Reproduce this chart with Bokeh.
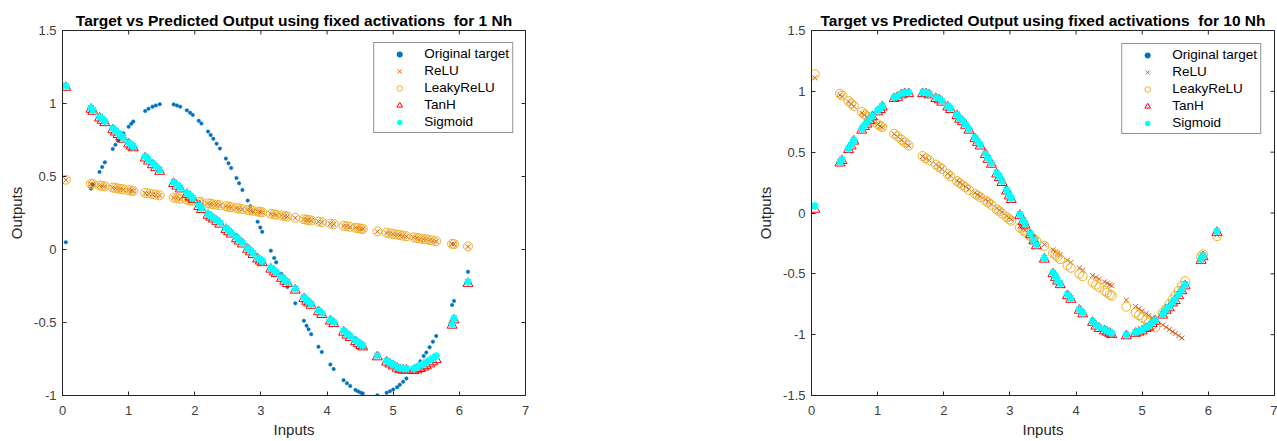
import math
from bokeh.plotting import figure
from bokeh.layouts import row
from bokeh.models import FixedTicker, Legend, LegendItem, Range1d
from bokeh.embed import file_html
from bokeh.resources import INLINE

# ---------------- data ----------------
x_inputs = [0.05, 0.43, 0.46, 0.56, 0.60, 0.64, 0.76, 0.80, 0.84, 0.88, 0.92, 1.00, 1.04, 1.07, 1.25, 1.30,
            1.36, 1.41, 1.47, 1.68, 1.73, 1.78, 1.88, 1.93, 1.97, 2.06, 2.10, 2.20, 2.24, 2.28, 2.33, 2.38,
            2.47, 2.51, 2.55, 2.63, 2.67, 2.72, 2.80, 2.84, 2.88, 2.95, 2.99, 3.02, 3.15, 3.20, 3.23, 3.31,
            3.36, 3.40, 3.52, 3.65, 3.69, 3.72, 3.76, 3.87, 3.92, 4.05, 4.10, 4.25, 4.30, 4.35, 4.43, 4.47,
            4.51, 4.54, 4.76, 4.90, 4.95, 5.00, 5.06, 5.10, 5.15, 5.20, 5.31, 5.36, 5.41, 5.46, 5.50, 5.55,
            5.60, 5.65, 5.89, 5.92, 6.13]

target = [0.05, 0.417, 0.444, 0.531, 0.565, 0.597, 0.689, 0.717, 0.745, 0.771, 0.796, 0.841, 0.862, 0.877,
          0.949, 0.964, 0.978, 0.987, 0.995, 0.994, 0.987, 0.978, 0.953, 0.936, 0.922, 0.882, 0.863, 0.808,
          0.784, 0.759, 0.725, 0.691, 0.623, 0.590, 0.558, 0.489, 0.454, 0.408, 0.335, 0.297, 0.259, 0.190,
          0.150, 0.121, -0.008, -0.058, -0.088, -0.168, -0.217, -0.256, -0.369, -0.488, -0.522, -0.547,
          -0.580, -0.666, -0.702, -0.788, -0.818, -0.895, -0.916, -0.935, -0.962, -0.972, -0.981, -0.986,
          -0.999, -0.982, -0.971, -0.959, -0.943, -0.926, -0.905, -0.883, -0.826, -0.794, -0.766, -0.730,
          -0.706, -0.669, -0.631, -0.592, -0.380, -0.352, -0.153]

# 1 hidden neuron
relu_1nh = [0.476, 0.448, 0.446, 0.438, 0.435, 0.432, 0.423, 0.420, 0.417, 0.414, 0.411, 0.405, 0.402, 0.400,
            0.386, 0.383, 0.378, 0.374, 0.370, 0.354, 0.350, 0.347, 0.339, 0.335, 0.332, 0.326, 0.323, 0.315,
            0.312, 0.309, 0.305, 0.302, 0.295, 0.292, 0.289, 0.283, 0.280, 0.276, 0.270, 0.267, 0.264, 0.259,
            0.256, 0.254, 0.244, 0.240, 0.238, 0.232, 0.228, 0.225, 0.216, 0.206, 0.203, 0.201, 0.198, 0.190,
            0.186, 0.176, 0.173, 0.161, 0.158, 0.154, 0.148, 0.145, 0.142, 0.140, 0.123, 0.113, 0.109, 0.105,
            0.101, 0.098, 0.094, 0.090, 0.082, 0.078, 0.074, 0.071, 0.068, 0.064, 0.060, 0.056, 0.038, 0.036,
            0.020]
leaky_1nh = [0.478, 0.450, 0.447, 0.439, 0.436, 0.433, 0.424, 0.421, 0.418, 0.415, 0.412, 0.406, 0.403, 0.401,
             0.387, 0.384, 0.379, 0.375, 0.371, 0.355, 0.351, 0.348, 0.340, 0.336, 0.333, 0.327, 0.324, 0.316,
             0.313, 0.310, 0.306, 0.303, 0.296, 0.293, 0.290, 0.284, 0.281, 0.277, 0.271, 0.268, 0.265, 0.260,
             0.257, 0.255, 0.245, 0.241, 0.239, 0.233, 0.229, 0.226, 0.217, 0.207, 0.204, 0.202, 0.199, 0.191,
             0.187, 0.177, 0.174, 0.162, 0.159, 0.155, 0.149, 0.146, 0.143, 0.141, 0.124, 0.114, 0.110, 0.106,
             0.102, 0.099, 0.095, 0.091, 0.083, 0.079, 0.075, 0.072, 0.069, 0.065, 0.061, 0.057, 0.039, 0.037,
             0.021]
tanh_1nh = [1.11, 0.96, 0.946, 0.90, 0.884, 0.868, 0.82, 0.804, 0.787, 0.771, 0.755, 0.722, 0.707, 0.696,
            0.626, 0.605, 0.58, 0.56, 0.535, 0.451, 0.433, 0.414, 0.377, 0.359, 0.343, 0.294, 0.273, 0.234,
            0.221, 0.208, 0.192, 0.173, 0.137, 0.121, 0.105, 0.073, 0.057, 0.037, 0.001, -0.017, -0.035,
            -0.066, -0.08, -0.091, -0.135, -0.154, -0.166, -0.198, -0.218, -0.233, -0.279, -0.337, -0.355,
            -0.367, -0.383, -0.427, -0.446, -0.491, -0.508, -0.567, -0.587, -0.604, -0.632, -0.646, -0.659,
            -0.668, -0.736, -0.772, -0.785, -0.798, -0.814, -0.824, -0.827, -0.827, -0.83, -0.825, -0.816,
            -0.806, -0.797, -0.784, -0.77, -0.755, -0.519, -0.483, -0.233]
sigmoid_1nh = [1.12, 0.97, 0.956, 0.91, 0.894, 0.878, 0.83, 0.814, 0.797, 0.781, 0.765, 0.732, 0.717, 0.706,
               0.636, 0.615, 0.59, 0.57, 0.545, 0.461, 0.443, 0.424, 0.387, 0.369, 0.353, 0.304, 0.283, 0.244,
               0.231, 0.218, 0.202, 0.183, 0.147, 0.131, 0.115, 0.083, 0.067, 0.047, 0.011, -0.007, -0.025,
               -0.056, -0.07, -0.081, -0.125, -0.144, -0.156, -0.188, -0.208, -0.223, -0.269, -0.327, -0.345,
               -0.357, -0.373, -0.417, -0.436, -0.481, -0.498, -0.557, -0.577, -0.594, -0.622, -0.636, -0.649,
               -0.658, -0.726, -0.762, -0.775, -0.788, -0.804, -0.814, -0.817, -0.817, -0.817, -0.805, -0.794,
               -0.782, -0.772, -0.758, -0.743, -0.729, -0.509, -0.473, -0.223]

# 10 hidden neurons
relu_10nh = [1.11, 0.97, 0.957, 0.914, 0.896, 0.877, 0.82, 0.804, 0.789, 0.773, 0.758, 0.728, 0.714, 0.705,
             0.65, 0.628, 0.60, 0.579, 0.553, 0.464, 0.448, 0.432, 0.40, 0.381, 0.364, 0.324, 0.306, 0.265,
             0.25, 0.234, 0.216, 0.196, 0.165, 0.151, 0.137, 0.11, 0.096, 0.074, 0.04, 0.023, 0.006, -0.024,
             -0.041, -0.053, -0.108, -0.129, -0.142, -0.178, -0.2, -0.217, -0.26, -0.303, -0.318, -0.33,
             -0.345, -0.388, -0.407, -0.452, -0.47, -0.514, -0.529, -0.543, -0.566, -0.577, -0.589, -0.597,
             -0.715, -0.768, -0.787, -0.805, -0.827, -0.842, -0.861, -0.879, -0.92, -0.939, -0.957, -0.976,
             -0.99, -1.009, -1.027, -0.58, -0.37, -0.35, -0.18]
leaky_10nh = [1.14, 0.98, 0.965, 0.92, 0.90, 0.88, 0.83, 0.812, 0.795, 0.778, 0.76, 0.73, 0.716, 0.706,
              0.652, 0.63, 0.602, 0.58, 0.555, 0.468, 0.45, 0.433, 0.398, 0.378, 0.362, 0.32, 0.302, 0.262,
              0.246, 0.23, 0.211, 0.19, 0.158, 0.144, 0.13, 0.102, 0.087, 0.066, 0.03, 0.013, -0.004, -0.034,
              -0.052, -0.064, -0.12, -0.14, -0.155, -0.19, -0.212, -0.23, -0.27, -0.33, -0.345, -0.36, -0.38,
              -0.43, -0.45, -0.50, -0.52, -0.57, -0.59, -0.61, -0.64, -0.655, -0.67, -0.68, -0.77, -0.82,
              -0.84, -0.86, -0.88, -0.90, -0.92, -0.94, -0.82, -0.79, -0.75, -0.71, -0.68, -0.64, -0.60,
              -0.56, -0.36, -0.34, -0.19]
tanh_10nh = [0.03, 0.41, 0.43, 0.52, 0.55, 0.59, 0.68, 0.71, 0.73, 0.76, 0.79, 0.83, 0.85, 0.87, 0.94, 0.95,
             0.97, 0.98, 0.98, 0.98, 0.98, 0.97, 0.94, 0.93, 0.91, 0.87, 0.85, 0.80, 0.77, 0.75, 0.72, 0.68,
             0.61, 0.58, 0.55, 0.48, 0.44, 0.40, 0.32, 0.29, 0.25, 0.18, 0.14, 0.11, -0.02, -0.07, -0.10,
             -0.18, -0.23, -0.27, -0.38, -0.50, -0.53, -0.56, -0.59, -0.68, -0.71, -0.80, -0.83, -0.90, -0.93,
             -0.95, -0.97, -0.98, -0.99, -1.00, -1.01, -0.99, -0.98, -0.97, -0.95, -0.94, -0.91, -0.89, -0.84,
             -0.80, -0.78, -0.74, -0.72, -0.68, -0.64, -0.60, -0.39, -0.36, -0.16]
sigmoid_10nh = [0.06, 0.42, 0.44, 0.53, 0.56, 0.60, 0.69, 0.72, 0.74, 0.77, 0.80, 0.84, 0.86, 0.88, 0.95, 0.96,
                0.98, 0.99, 0.99, 0.99, 0.99, 0.98, 0.95, 0.94, 0.92, 0.88, 0.86, 0.81, 0.78, 0.76, 0.73, 0.69,
                0.62, 0.59, 0.56, 0.49, 0.45, 0.41, 0.33, 0.30, 0.26, 0.19, 0.15, 0.12, -0.01, -0.06, -0.09,
                -0.17, -0.22, -0.26, -0.37, -0.49, -0.52, -0.55, -0.58, -0.67, -0.70, -0.79, -0.82, -0.89, -0.92,
                -0.94, -0.96, -0.97, -0.98, -0.99, -1.00, -0.98, -0.97, -0.96, -0.94, -0.93, -0.90, -0.88, -0.83,
                -0.79, -0.77, -0.73, -0.71, -0.67, -0.63, -0.59, -0.38, -0.35, -0.15]

series_labels = ["Original target", "ReLU", "LeakyReLU", "TanH", "Sigmoid"]

x_ticks = [0, 1, 2, 3, 4, 5, 6, 7]
x_tick_labels = ["0", "1", "2", "3", "4", "5", "6", "7"]
x_limits = (0, 7)
y_ticks_1nh = [-1, -0.5, 0, 0.5, 1, 1.5]
y_tick_labels_1nh = ["-1", "-0.5", "0", "0.5", "1", "1.5"]
y_limits_1nh = (-1, 1.5)
y_ticks_10nh = [-1.5, -1, -0.5, 0, 0.5, 1, 1.5]
y_tick_labels_10nh = ["-1.5", "-1", "-0.5", "0", "0.5", "1", "1.5"]
y_limits_10nh = (-1.5, 1.5)

title_1nh = "Target vs Predicted Output using fixed activations\u00a0 for 1 Nh"
title_10nh = "Target vs Predicted Output using fixed activations\u00a0 for 10 Nh"

# ---------------- styling ----------------
FONT = "Liberation Sans"
AXC = "#262626"
LBLC = "#404040"


def style_axis(ax, ticks, labels):
    ax.ticker = FixedTicker(ticks=ticks)
    ax.major_label_overrides = {t: l for t, l in zip(ticks, labels)}
    ax.axis_line_color = AXC
    ax.axis_line_width = 1
    ax.major_tick_line_color = AXC
    ax.major_tick_in = 4
    ax.major_tick_out = 0
    ax.minor_tick_line_color = None
    ax.major_label_text_font = FONT
    ax.major_label_text_color = LBLC
    ax.major_label_text_font_size = "13px"
    ax.axis_label_text_font = FONT
    ax.axis_label_text_font_size = "15px"
    ax.axis_label_text_font_style = "normal"
    ax.axis_label_text_color = AXC


def panel(title, y_limits, y_ticks, y_labels, ys, border_right, legend_margin):
    p = figure(frame_width=463, frame_height=365, x_range=Range1d(*x_limits), y_range=Range1d(*y_limits),
               output_backend="svg", toolbar_location=None, min_border_left=62,
               min_border_right=border_right, min_border_top=30, min_border_bottom=46,
               title=title, background_fill_color="white", border_fill_color="white")
    p.title.text_font = FONT
    p.title.text_font_size = "15.5px"
    p.title.text_font_style = "bold"
    p.title.text_color = "black"
    p.title.align = "center"
    p.title.standoff = 4
    p.xgrid.visible = False
    p.ygrid.visible = False
    p.outline_line_color = AXC

    xa = p.xaxis[0]
    style_axis(xa, x_ticks, x_tick_labels)
    xa.major_label_standoff = 10
    xa.axis_label = "Inputs"
    xa.axis_label_standoff = 3

    ya = p.yaxis[0]
    style_axis(ya, y_ticks, y_labels)
    ya.major_label_standoff = 6
    ya.axis_label = "Outputs"
    ya.axis_label_standoff = 6

    # inward box ticks on the top and right edges (half of each dash is clipped by the frame)
    p.scatter(x_ticks, [y_limits[1]] * len(x_ticks), marker="dash", angle=math.pi / 2, size=8,
              line_color=AXC, line_width=1)
    p.scatter([x_limits[1]] * len(y_ticks), y_ticks, marker="dash", size=8, line_color=AXC, line_width=1)

    y_t, y_r, y_l, y_th, y_s = ys
    r0 = p.scatter(x_inputs, y_t, marker="circle", size=3.5, fill_color="#0072BD", line_color="#0072BD",
                   line_width=0.5)
    r1 = p.scatter(x_inputs, y_r, marker="x", size=7, line_color="#D95319", line_width=1)
    r2 = p.scatter(x_inputs, y_l, marker="circle", size=9, fill_alpha=0, line_color="#EDB120", line_width=1)
    r3 = p.scatter(x_inputs, y_th, marker="triangle", size=10, fill_alpha=0, line_color="#FF0000",
                   line_width=1)
    r4 = p.scatter(x_inputs, y_s, marker="asterisk", size=8, line_color="#00FFFF", line_width=1.8)

    items = [LegendItem(label=lab, renderers=[r]) for lab, r in zip(series_labels, [r0, r1, r2, r3, r4])]
    leg = Legend(items=items, location="top_right", margin=legend_margin, padding=3, spacing=2,
                 label_height=14, glyph_height=14, glyph_width=44, label_standoff=3,
                 label_text_font=FONT, label_text_font_size="13.5px", label_text_color="black",
                 label_text_line_height=1.0,
                 border_line_color=AXC, border_line_width=1, background_fill_color="white",
                 background_fill_alpha=1)
    p.add_layout(leg)
    return p


p1 = panel(title_1nh, y_limits_1nh, y_ticks_1nh, y_tick_labels_1nh,
           (target, relu_1nh, leaky_1nh, tanh_1nh, sigmoid_1nh), 224, 12)
p2 = panel(title_10nh, y_limits_10nh, y_ticks_10nh, y_tick_labels_10nh,
           (target, relu_10nh, leaky_10nh, tanh_10nh, sigmoid_10nh), 3, 13)

layout = row(p1, p2)
open("out.html", "w").write(file_html(layout, INLINE))
